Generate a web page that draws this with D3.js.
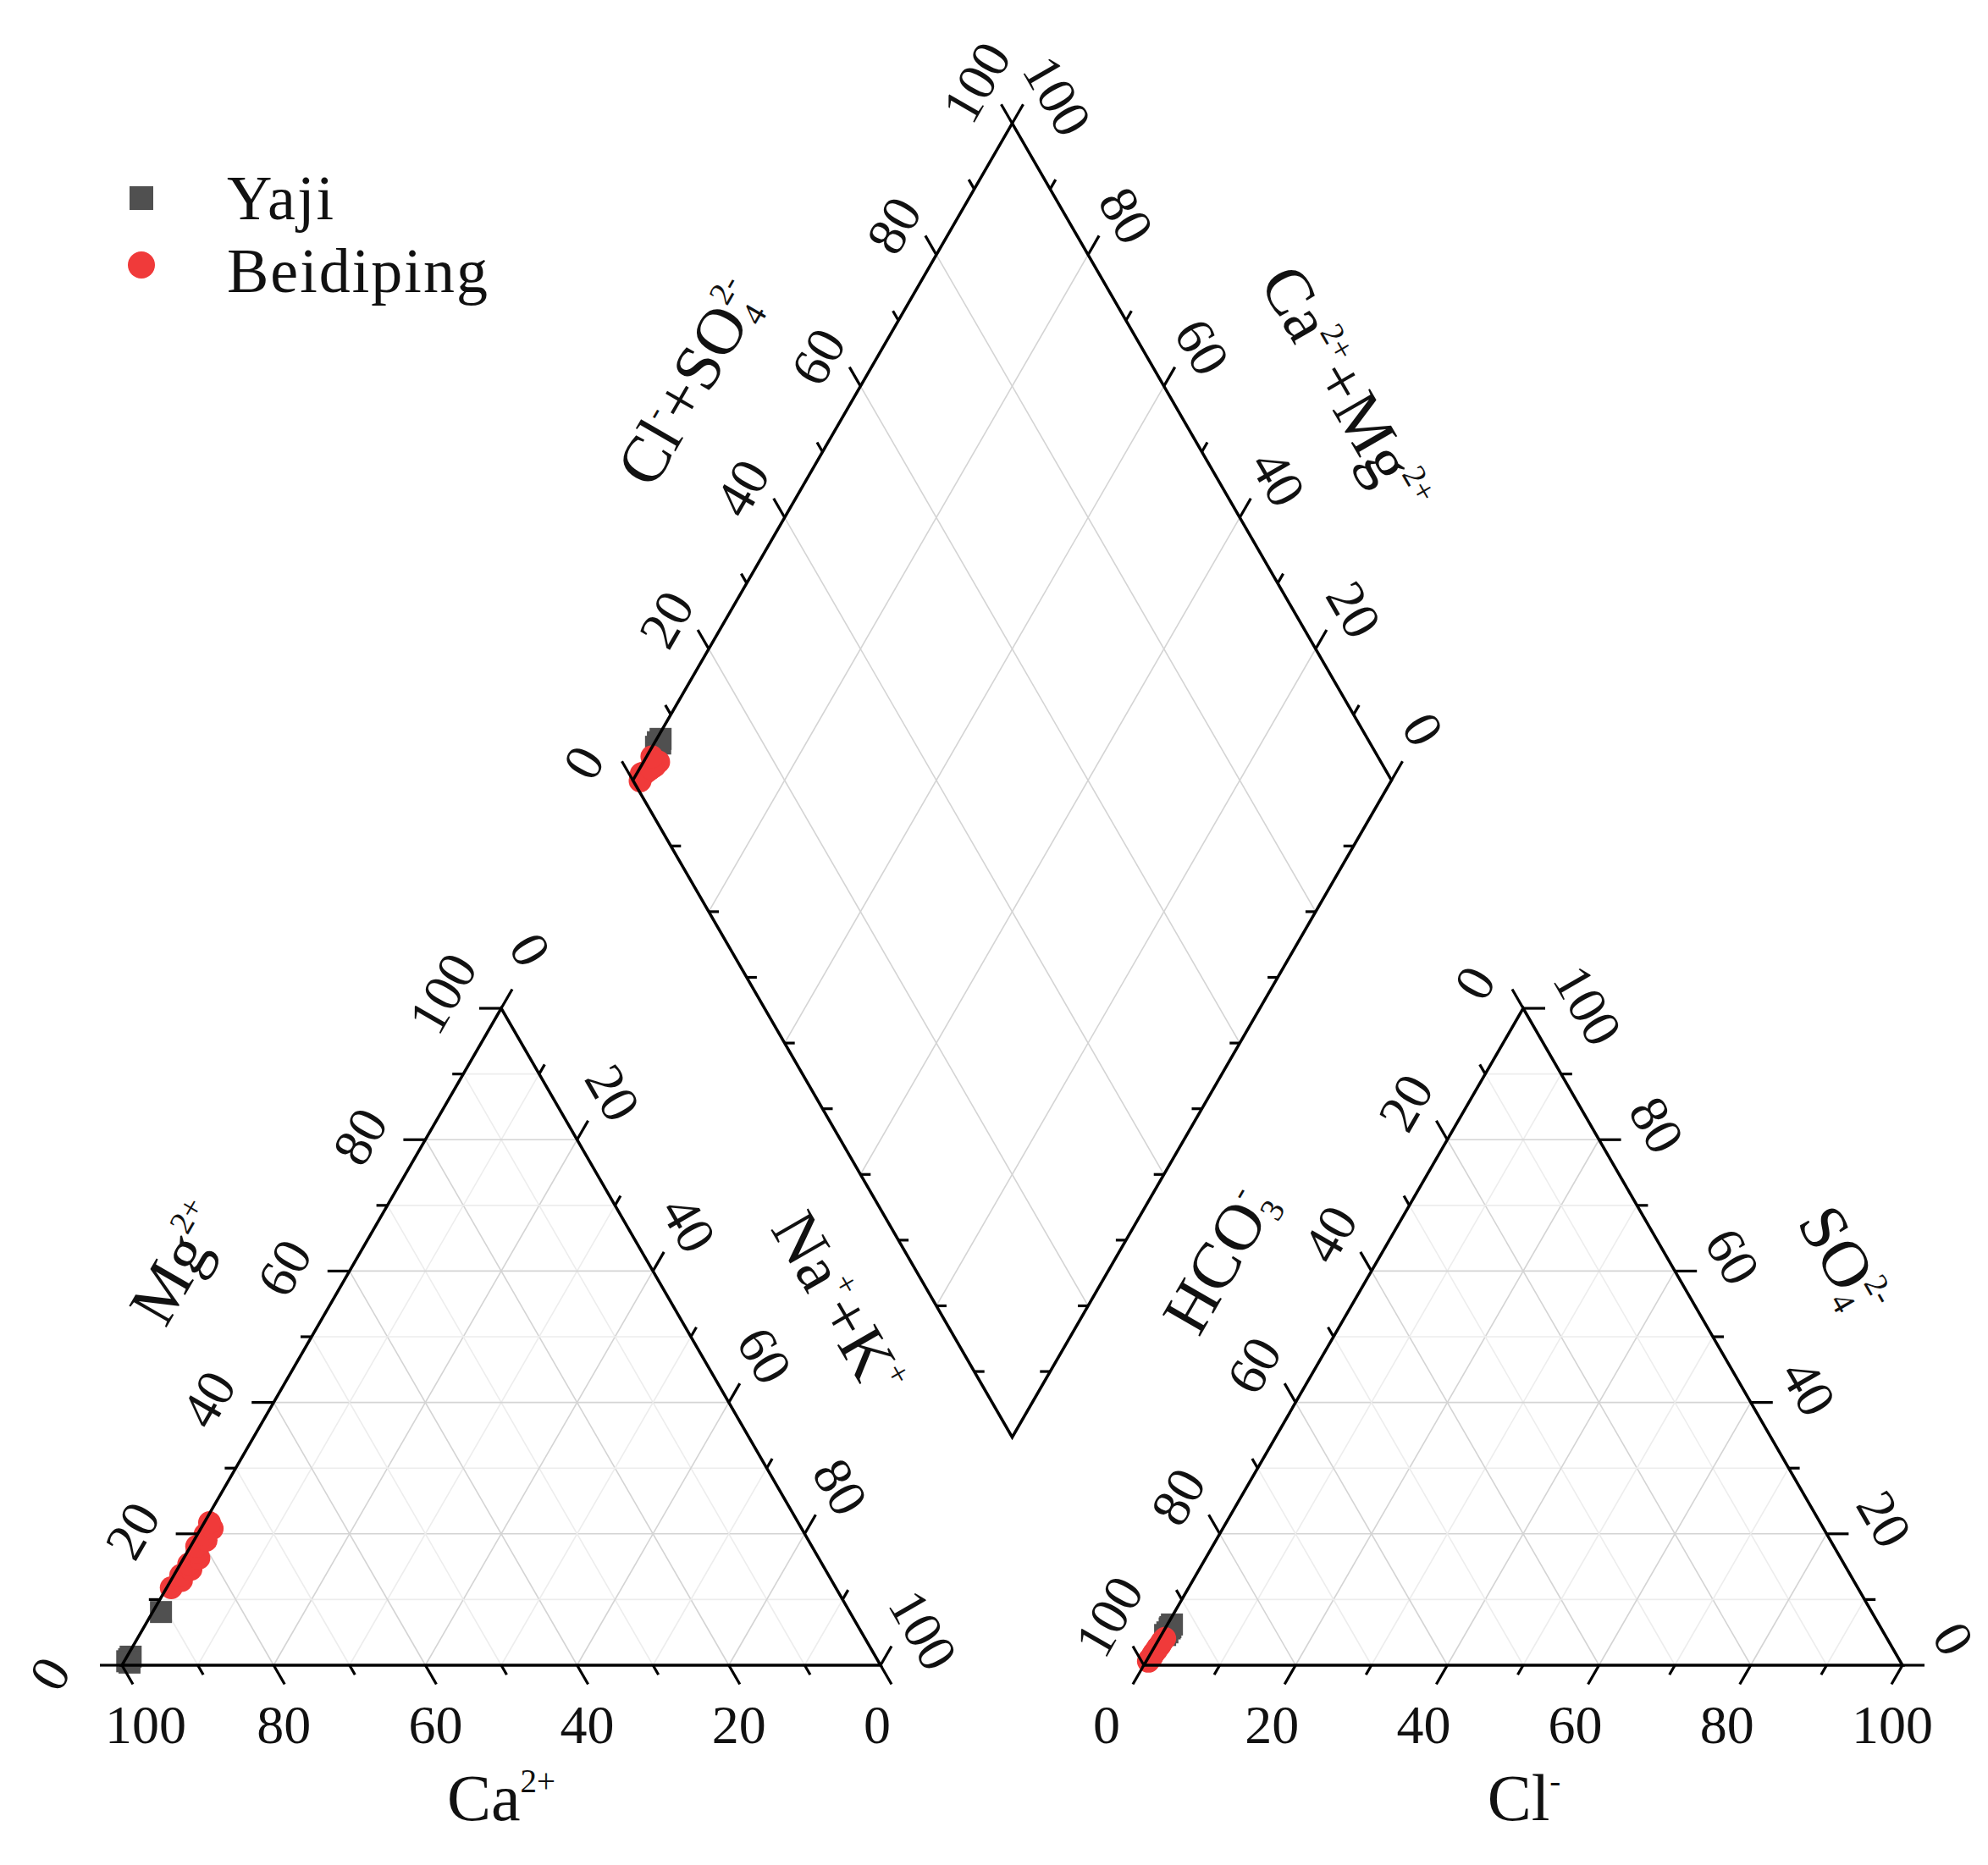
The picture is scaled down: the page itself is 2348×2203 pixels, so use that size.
<!DOCTYPE html>
<html>
<head>
<meta charset="utf-8">
<script src="https://cdn.jsdelivr.net/npm/d3@7"></script>
<style>
  body { margin: 0; background: #fff; }
  svg { display: block; font-family: "Liberation Serif", "Times New Roman", serif; }
</style>
</head>
<body>
<div id="chart"></div>
<script>
// ---- data (meq %) ----
var groups = ["Yaji", "Beidiping"];
var colors = {Yaji: "#505050", Beidiping: "#f03a3a"};

// cations
var yajiCa  = [99.0, 98.6, 98.2, 90.8, 98.8];
var yajiMg  = [0.6, 0.9, 1.3, 8.1, 0.4];
var yajiNaK = [0.4, 0.5, 0.5, 1.1, 0.8];
// anions
var yajiHCO3 = [93.8, 94.4, 93.2, 94.9, 93.6];
var yajiSO4  = [5.6, 5.0, 6.2, 4.6, 5.8];
var yajiCl   = [0.6, 0.6, 0.6, 0.5, 0.6];

var beiCa  = [87.6, 85.7, 85.4, 83.6, 83.5, 81.7, 81.5, 81.1, 79.4, 79.1, 77.7, 77.6];
var beiMg  = [11.8, 12.9, 13.7, 14.6, 15.4, 16.3, 17.2, 18.1, 19.0, 19.9, 20.8, 21.7];
var beiNaK = [0.6, 1.4, 0.9, 1.8, 1.1, 2.0, 1.3, 0.8, 1.6, 1.0, 1.5, 0.7];
var beiHCO3 = [98.4, 96.9, 98.9, 96.0, 97.7, 95.2, 97.2, 98.1, 96.4, 99.1, 96.7, 95.7];
var beiSO4  = [1.2, 2.6, 0.8, 3.4, 1.9, 4.1, 2.3, 1.5, 3.0, 0.6, 2.8, 3.7];
var beiCl   = [0.4, 0.5, 0.3, 0.6, 0.4, 0.7, 0.5, 0.4, 0.6, 0.3, 0.5, 0.6];

var tickVals = [0, 10, 20, 30, 40, 50, 60, 70, 80, 90, 100];
var labelVals = [0, 20, 40, 60, 80, 100];

function samples(name, ca, mg, nk, hco3, so4, cl) {
  return ca.map(function (d, i) {
    return {group: name, ca: d, mg: mg[i], nk: nk[i], hco3: hco3[i], so4: so4[i], cl: cl[i]};
  });
}
var data = samples("Yaji", yajiCa, yajiMg, yajiNaK, yajiHCO3, yajiSO4, yajiCl)
  .concat(samples("Beidiping", beiCa, beiMg, beiNaK, beiHCO3, beiSO4, beiCl));

// ---- layout ----
var W = 2348, H = 2203;
var S3 = Math.sqrt(3) / 2;
var side = 896, h = side * S3, gap = 311, baseY = 1967;
var leftX0 = 144, rightX0 = leftX0 + side + gap;
var dBottom = [leftX0 + side + gap / 2, baseY - gap / 2 * Math.sqrt(3)];
var dLeft = [dBottom[0] - side / 2, dBottom[1] - h];

var svg = d3.select("#chart").append("svg").attr("width", W).attr("height", H);
svg.append("rect").attr("width", W).attr("height", H).attr("fill", "#fff");

// scales
var catX = d3.scaleLinear().domain([0, 100]).range([leftX0, leftX0 + side]);
var triY = d3.scaleLinear().domain([0, 100]).range([baseY, baseY - h]);
var anX = d3.scaleLinear().domain([0, 100]).range([rightX0, rightX0 + side]);
var dmX = d3.scaleLinear().domain([0, 200]).range([dLeft[0], dLeft[0] + side]);
var dmY = d3.scaleLinear().domain([-100, 100]).range([dBottom[1], dBottom[1] - 2 * h]);

function cat(ca, mg, nk) { return [catX(nk + mg / 2), triY(mg)]; }
function an(hco3, so4, cl) { return [anX(cl + so4 / 2), triY(so4)]; }
function dia(cs, nk) { return [dmX(cs + nk), dmY(cs - nk)]; }

// ---- grid ----
var grid = svg.append("g").attr("fill", "none");
function gline(p, q, major) {
  grid.append("line")
    .attr("x1", p[0]).attr("y1", p[1]).attr("x2", q[0]).attr("y2", q[1])
    .attr("stroke", major ? "#d4d4d4" : "#ededed").attr("stroke-width", 1.6);
}
d3.range(10, 100, 10).forEach(function (k) {
  var major = k % 20 === 0;
  gline(cat(100 - k, k, 0), cat(0, k, 100 - k), major);
  gline(cat(k, 100 - k, 0), cat(k, 0, 100 - k), major);
  gline(cat(100 - k, 0, k), cat(0, 100 - k, k), major);
  gline(an(100 - k, k, 0), an(0, k, 100 - k), major);
  gline(an(k, 100 - k, 0), an(k, 0, 100 - k), major);
  gline(an(100 - k, 0, k), an(0, 100 - k, k), major);
  if (major) {
    gline(dia(k, 0), dia(k, 100), true);
    gline(dia(0, k), dia(100, k), true);
  }
});

// ---- points ----
var pts = svg.append("g");
function drawPoints(proj) {
  groups.forEach(function (gname) {
    var sel = pts.selectAll(null).data(data.filter(function (d) { return d.group === gname; }));
    if (gname === "Yaji") {
      sel.enter().append("rect")
        .attr("x", function (d) { return proj(d)[0] - 13; })
        .attr("y", function (d) { return proj(d)[1] - 13; })
        .attr("width", 26).attr("height", 26)
        .attr("fill", colors[gname]);
    } else {
      sel.enter().append("circle")
        .attr("cx", function (d) { return proj(d)[0]; })
        .attr("cy", function (d) { return proj(d)[1]; })
        .attr("r", 13.5)
        .attr("fill", colors[gname]);
    }
  });
}
drawPoints(function (d) { return cat(d.ca, d.mg, d.nk); });
drawPoints(function (d) { return an(d.hco3, d.so4, d.cl); });
drawPoints(function (d) { return dia(d.so4 + d.cl, d.nk); });

// ---- frames ----
var frame = svg.append("g").attr("fill", "none").attr("stroke", "#000").attr("stroke-width", 3.5)
  .attr("stroke-linejoin", "miter");
var line = d3.line();
frame.append("path").attr("d", line([cat(100, 0, 0), cat(0, 100, 0), cat(0, 0, 100)]) + "Z");
frame.append("path").attr("d", line([an(100, 0, 0), an(0, 100, 0), an(0, 0, 100)]) + "Z");
frame.append("path").attr("d", line([dia(0, 0), dia(100, 0), dia(100, 100), dia(0, 100)]) + "Z");

// ---- axes: ticks and labels ----
var dL = [-1, 0], dR = [1, 0], dUL = [-0.5, -S3], dUR = [0.5, -S3], dDL = [-0.5, S3], dDR = [0.5, S3];
var axes = [
  {pt: function (v) { return cat(v, 0, 100 - v); }, dir: dDR, off: [-20, 70], rot: 0},
  {pt: function (v) { return cat(100 - v, v, 0); }, dir: dL, off: [-93, 24], rot: -60},
  {pt: function (v) { return cat(0, 100 - v, v); }, dir: dUR, off: [26, -83], rot: 60},
  {pt: function (v) { return an(100 - v, 0, v); }, dir: dDL, off: [-60, 70], rot: 0},
  {pt: function (v) { return an(v, 100 - v, 0); }, dir: dUL, off: [-65, -16], rot: -60},
  {pt: function (v) { return an(0, v, 100 - v); }, dir: dR, off: [52, -45], rot: 60},
  {pt: function (v) { return dia(v, 0); }, dir: dUL, off: [-66, -7], rot: -60},
  {pt: function (v) { return dia(100, 100 - v); }, dir: dUR, off: [29, -74], rot: 60},
  {pt: function (v) { return dia(0, v); }, dir: dR, small: true},
  {pt: function (v) { return dia(v, 100); }, dir: dL, small: true}
];
var tickG = svg.append("g").attr("stroke", "#000").attr("stroke-width", 3.2);
var labG = svg.append("g").attr("font-size", 64).attr("fill", "#111");
axes.forEach(function (ax) {
  tickVals.forEach(function (v) {
    if (ax.small && (v === 0 || v === 100)) return;
    var p = ax.pt(v);
    var len = ax.small ? 12 : (v % 20 === 0 ? 26 : 13);
    tickG.append("line")
      .attr("x1", p[0]).attr("y1", p[1])
      .attr("x2", p[0] + ax.dir[0] * len).attr("y2", p[1] + ax.dir[1] * len);
  });
  if (ax.small) return;
  labelVals.forEach(function (v) {
    var p = ax.pt(v);
    labG.append("text")
      .attr("transform", "translate(" + (p[0] + ax.off[0]) + "," + (p[1] + ax.off[1]) + ") rotate(" + ax.rot + ")")
      .attr("text-anchor", "start")
      .attr("dominant-baseline", "central")
      .text(v);
  });
});

// ---- axis titles ----
var titleSize = 78;
function chem(x, y, rot, parts) {
  var t = svg.append("text")
    .attr("transform", "translate(" + x + "," + y + ") rotate(" + rot + ")")
    .attr("text-anchor", "middle")
    .attr("font-size", titleSize)
    .attr("fill", "#111");
  var cur = 0;
  parts.forEach(function (p) {
    var target = p.sup ? -titleSize * 0.42 : (p.sub ? titleSize * 0.16 : 0);
    var ts = t.append("tspan").text(p.t).attr("dy", target - cur);
    if (p.sup || p.sub) ts.attr("font-size", titleSize * 0.5);
    if (p.dx) ts.attr("dx", p.dx);
    cur = target;
  });
  return t;
}
chem(592, 2150, 0, [{t: "Ca"}, {t: "2+", sup: true}]);
chem(1800, 2150, 0, [{t: "Cl"}, {t: "-", sup: true}]);
chem(211 + 22, 1492 + 13, -60, [{t: "Mg"}, {t: "2+", sup: true}]);
chem(990 - 22, 1540 + 13, 60, [{t: "Na"}, {t: "+", sup: true}, {t: "+K"}, {t: "+", sup: true}]);
chem(1440 + 22, 1488 + 13, -60, [{t: "HCO"}, {t: "3", sub: true}, {t: "-", sup: true, dx: -18}]);
chem(2177 - 22, 1489 + 13, 60, [{t: "SO"}, {t: "4", sub: true}, {t: "2-", sup: true, dx: -18}]);
chem(815 + 22, 452 + 13, -60, [{t: "Cl"}, {t: "-", sup: true}, {t: "+SO"}, {t: "4", sub: true}, {t: "2-", sup: true, dx: -18}]);
chem(1589 - 22, 460 + 13, 60, [{t: "Ca"}, {t: "2+", sup: true}, {t: "+Mg"}, {t: "2+", sup: true}]);

// ---- legend ----
var leg = svg.append("g").attr("font-size", 74).attr("fill", "#111");
leg.append("rect").attr("x", 167 - 14).attr("y", 234 - 14).attr("width", 28).attr("height", 28)
  .attr("fill", colors.Yaji);
leg.append("circle").attr("cx", 167).attr("cy", 313).attr("r", 16).attr("fill", colors.Beidiping);
leg.append("text").attr("x", 268).attr("y", 259).attr("letter-spacing", 2).text(groups[0]);
leg.append("text").attr("x", 268).attr("y", 345).attr("letter-spacing", 2).text(groups[1]);
</script>
</body>
</html>
